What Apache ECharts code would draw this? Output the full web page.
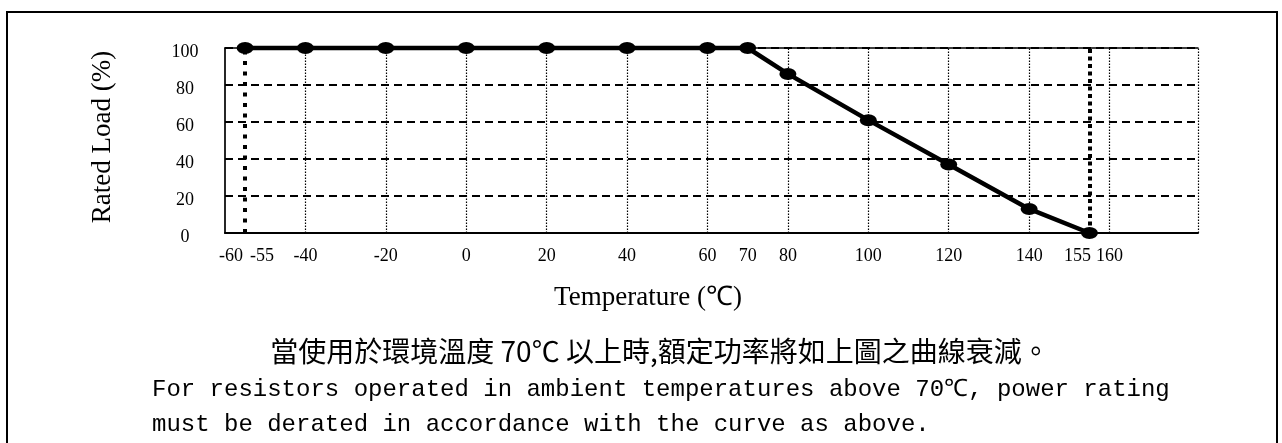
<!DOCTYPE html>
<html><head><meta charset="utf-8">
<script src="https://cdn.jsdelivr.net/npm/echarts@6/dist/echarts.min.js"></script>
<style>html,body{margin:0;padding:0;background:#fff}#c{width:1282px;height:443px}</style>
</head><body><div id="c"></div><script>
const temperatures = [-55, -40, -20, 0, 20, 40, 60, 70, 80, 100, 120, 140, 155];
const ratedLoad = [100, 100, 100, 100, 100, 100, 100, 100, 86, 61, 37, 13, 0];
const xTickLabels = [-60, -55, -40, -20, 0, 20, 40, 60, 70, 80, 100, 120, 140, 155, 160];
const xGridLines = [-40, -20, 0, 20, 40, 60, 80, 100, 120, 140, 160];
const limitLines = [-55, 155];
const xMin = -60, xMax = 182;
const yMin = 0, yMax = 100, yStep = 20;
const yName = 'Rated Load (%)';
const xName = 'Temperature (℃)';
const noteZh = '當使用於環境溫度 70℃ 以上時,額定功率將如上圖之曲線衰減。';
const noteEn1 = 'For resistors operated in ambient temperatures above 70℃, power rating';
const noteEn2 = 'must be derated in accordance with the curve as above.';

const chart = echarts.init(document.getElementById('c'));
const serif = '"Liberation Serif", "Times New Roman", serif';

const gridLineData = xGridLines.map(v => ({ xAxis: v })).concat([{ xAxis: xMax }]);
const limitData = limitLines.map((v, i) => [
  { coord: [v, yMin], lineStyle: { type: i === 0 ? [4, 6.5] : [4, 3.5], width: 4, color: '#000' } },
  { coord: [v, yMax] }
]);

const tickFont = { fontFamily: serif, fontSize: 18, color: '#000' };
// label nudges so that adjacent labels do not collide (style only)
const labelStyleFor = { '-60': 'r6', '-55': 'r17', '155': 'l12' };

chart.setOption({
  animation: false,
  backgroundColor: '#fff',
  grid: { left: 225, right: 84, top: 48, bottom: 210, outerBoundsMode: 'none', containLabel: false },
  xAxis: [{
    type: 'value', min: xMin, max: xMax, interval: 5,
    axisLine: { show: true, onZero: false, lineStyle: { color: '#000', width: 2 } },
    axisTick: { show: false },
    splitLine: { show: false },
    axisLabel: Object.assign({}, tickFont, {
      margin: 14, showMinLabel: true, showMaxLabel: false, hideOverlap: false,
      formatter: v => {
        if (xTickLabels.indexOf(v) < 0) return '';
        const s = labelStyleFor[String(v)] || 'n';
        return '{' + s + '|' + v + '}';
      },
      rich: {
        n: Object.assign({}, tickFont),
        r6: Object.assign({ padding: [0, 0, 0, 12] }, tickFont),
        r17: Object.assign({ padding: [0, 0, 0, 34] }, tickFont),
        l12: Object.assign({ padding: [0, 24, 0, 0] }, tickFont)
      }
    })
  }, {
    type: 'value', position: 'top', min: xMin, max: xMax,
    axisLine: { show: true, onZero: false, lineStyle: { color: '#000', width: 1.5 } },
    axisTick: { show: false }, axisLabel: { show: false }, splitLine: { show: false }
  }],
  yAxis: {
    type: 'value', min: yMin, max: yMax, interval: yStep,
    axisLine: { show: true, onZero: false, lineStyle: { color: '#000', width: 1.7 } },
    axisTick: { show: false },
    splitLine: { show: true, lineStyle: { color: '#000', width: 1.8, type: [8, 5] } },
    axisLabel: Object.assign({}, tickFont, {
      align: 'center', margin: 40, lineHeight: 8,
      formatter: v => '\n' + v
    })
  },
  series: [{
    type: 'line', data: [], silent: true,
    markLine: {
      silent: true, symbol: ['none', 'none'], label: { show: false },
      lineStyle: { color: '#000', width: 1.2, type: [1.5, 1.5] },
      data: gridLineData
    }
  }, {
    type: 'line', data: [], silent: true,
    markLine: {
      silent: true, symbol: ['none', 'none'], label: { show: false },
      data: limitData
    }
  }, {
    type: 'line', z: 5, clip: false,
    data: temperatures.map((t, i) => [t, ratedLoad[i]]),
    symbol: 'circle', symbolSize: [17, 12], showSymbol: true,
    lineStyle: { color: '#000', width: 4.5 },
    itemStyle: { color: '#000' }
  }],
  graphic: [
    { type: 'rect', shape: { x: 7, y: 12, width: 1270, height: 480 }, style: { fill: 'none', stroke: '#000', lineWidth: 2 }, silent: true },
    { type: 'text', x: 103, y: 137, rotation: Math.PI / 2,
      style: { text: yName, font: '27px ' + serif, fill: '#000', align: 'center', verticalAlign: 'middle' } },
    { type: 'text', x: 648, y: 298,
      style: { text: xName, font: '27px ' + serif, fill: '#000', align: 'center', verticalAlign: 'middle' } },
    { type: 'text', x: 660, y: 351,
      style: { text: noteZh, font: '28px "Noto Sans CJK TC"', fill: '#000', align: 'center', verticalAlign: 'middle' } },
    { type: 'text', x: 152, y: 390,
      style: { text: noteEn1, font: '24px "Liberation Mono"', fill: '#000', align: 'left', verticalAlign: 'middle' } },
    { type: 'text', x: 152, y: 425,
      style: { text: noteEn2, font: '24px "Liberation Mono"', fill: '#000', align: 'left', verticalAlign: 'middle' } }
  ]
});
</script></body></html>
